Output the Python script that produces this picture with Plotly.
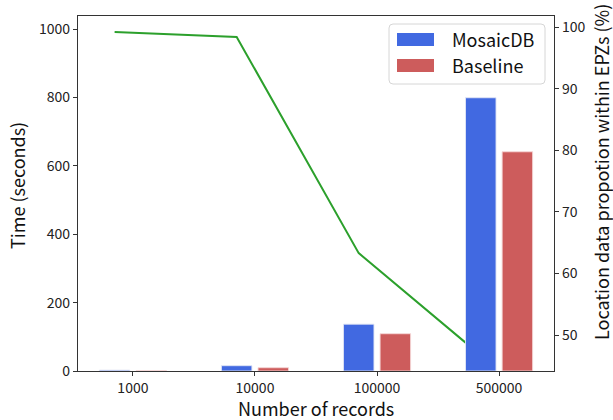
import plotly.graph_objects as go

categories = ["1000", "10000", "100000", "500000"]
mosaicdb_time = [2.5, 15.5, 137, 799]
baseline_time = [0.5, 9.6, 109, 641]
epz_proportion = [99.2, 98.4, 63.3, 46.7]
series_names = ["MosaicDB", "Baseline"]
series_colors = ["#4169E1", "#CD5C5C"]

FONT = "Noto Sans CJK JP"
idx = list(range(len(categories)))
bar_w = 0.25
off = 0.15

fig = go.Figure()
# line on primary (drawn below), bars on overlaying axis (drawn above)
fig.add_trace(go.Scatter(
    x=[i - off for i in idx], y=epz_proportion, mode="lines",
    line=dict(color="#2ca02c", width=2), showlegend=False, yaxis="y", hoverinfo="skip"))
fig.add_trace(go.Bar(
    x=[i - off for i in idx], y=mosaicdb_time, width=bar_w, name=series_names[0],
    marker=dict(color=series_colors[0], line=dict(color="rgba(225,230,245,0.9)", width=1)),
    yaxis="y2", showlegend=False))
fig.add_trace(go.Bar(
    x=[i + off for i in idx], y=baseline_time, width=bar_w, name=series_names[1],
    marker=dict(color=series_colors[1], line=dict(color="rgba(245,215,215,0.9)", width=1)),
    yaxis="y2", showlegend=False))

axis_common = dict(showgrid=False, zeroline=False, showline=True, linecolor="#333333",
                   linewidth=1.2, ticks="outside", ticklen=4, tickcolor="#333333",
                   automargin=False,
                   tickfont=dict(family=FONT, size=14, color="#222"))

L, R, T, B = 78, 59, 16, 49
W, H = 613, 420
PW, PH = W - L - R, H - T - B

def fx(px):
    return (px - L) / PW

def fy(py):
    return (H - B - py) / PH

fig.update_layout(
    width=W, height=H,
    margin=dict(l=L, r=R, t=T, b=B),
    plot_bgcolor="white", paper_bgcolor="white",
    barmode="overlay",
    showlegend=False,
    font=dict(family=FONT, color="#111"),
    xaxis=dict(axis_common, range=[-0.45, 3.45], tickmode="array", tickvals=idx,
               ticktext=categories, mirror=True),
    yaxis=dict(axis_common, side="right", range=[44.16, 101.8], tickvals=[50, 60, 70, 80, 90, 100]),
    yaxis2=dict(axis_common, side="left", overlaying="y", range=[0, 1038],
                tickvals=[0, 200, 400, 600, 800, 1000]),
)

# custom legend box (rounded)
x0, x1, y0, y1, r = fx(389), fx(545), fy(24), fy(84), 4
rx, ry = r / PW, r / PH
path = (f"M {x0+rx},{y0} L {x1-rx},{y0} Q {x1},{y0} {x1},{y0-ry} "
        f"L {x1},{y1+ry} Q {x1},{y1} {x1-rx},{y1} L {x0+rx},{y1} Q {x0},{y1} {x0},{y1+ry} "
        f"L {x0},{y0-ry} Q {x0},{y0} {x0+rx},{y0} Z")
fig.add_shape(type="path", path=path, xref="paper", yref="paper",
              fillcolor="rgba(255,255,255,0.85)", line=dict(color="#d6d6d6", width=1), layer="above")
for k, (name, col) in enumerate(zip(series_names, series_colors)):
    top = 33 + k * 26
    fig.add_shape(type="rect", xref="paper", yref="paper",
                  x0=fx(397), x1=fx(434), y0=fy(top), y1=fy(top + 13),
                  fillcolor=col, line=dict(width=0), layer="above")
    fig.add_annotation(text=name, xref="paper", yref="paper", x=fx(450), y=fy(top + 6),
                       xanchor="left", yanchor="middle", showarrow=False,
                       font=dict(family=FONT, size=18, color="#111"))

title_font = dict(family=FONT, size=18, color="#111")
fig.add_annotation(text="Number of records", xref="paper", yref="paper",
                   x=fx(316), y=fy(408),
                   xanchor="center", yanchor="middle", showarrow=False, font=title_font)
fig.add_annotation(text="Time (seconds)", xref="paper", yref="paper",
                   x=fx(17), y=fy(186),
                   xanchor="center", yanchor="middle", textangle=-90, showarrow=False, font=title_font)
fig.add_annotation(text="Location data propotion within EPZs (%)", xref="paper", yref="paper",
                   x=fx(601), y=fy(172),
                   xanchor="center", yanchor="middle", textangle=-90, showarrow=False,
                   font=dict(family=FONT, size=18, color="#111"))

fig.write_html("out.html", config={"displayModeBar": False},
               post_script="document.body.style.margin='0';")
